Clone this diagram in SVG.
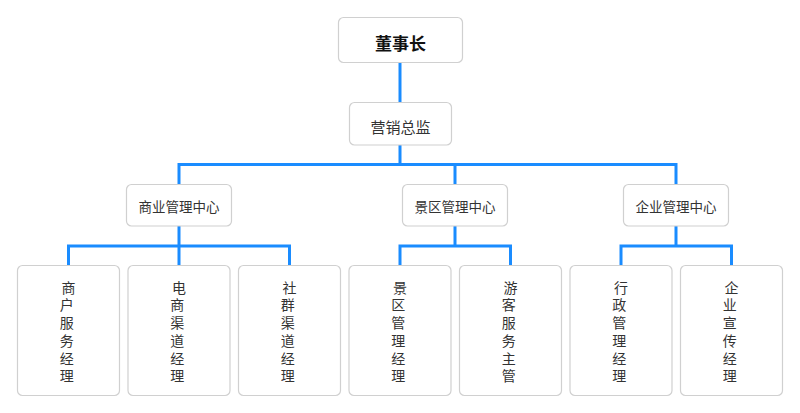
<svg xmlns="http://www.w3.org/2000/svg" width="800" height="413" viewBox="0 0 800 413">
<style>
.box{fill:#fff;stroke:#d0d0d0;stroke-width:1.2}
.t{font-family:"Noto Sans CJK SC","Noto Sans",sans-serif;fill:#333;text-anchor:middle;dominant-baseline:central}
.top{font-size:17px;font-weight:bold;fill:#111}
.mid{font-size:15px}
.ctr{font-size:13.5px}
.leaf{font-size:14px}
.conn{fill:none;stroke:#1a8cff;stroke-width:3}
</style>
<rect width="800" height="413" fill="#fff"/>
<g id="connectors">
<path class="conn" d="M400,62.5V102.5"/>
<path class="conn" d="M400,145V164.5M179,184.5V164.5H676V184.5M455,164.5V184.5"/>
<path class="conn" d="M179,226V246M68.5,265.5V246H289.5V265.5M179,246V265.5"/>
<path class="conn" d="M455,226V246M400,265.5V246H510.5V265.5"/>
<path class="conn" d="M676,226V246M621,265.5V246H731.5V265.5"/>
</g>
<g id="n-chairman"><rect class="box" x="338.5" y="17.5" width="124" height="45" rx="5"/><text class="t top" x="400.5" y="42">董事长</text></g>
<g id="n-director"><rect class="box" x="349.5" y="102.5" width="102" height="42.5" rx="5"/><text class="t mid" x="400.5" y="126">营销总监</text></g>
<g id="n-biz"><rect class="box" x="126.5" y="184.5" width="105" height="41.5" rx="5"/><text class="t ctr" x="179" y="205.5">商业管理中心</text></g>
<g id="n-scenic"><rect class="box" x="402.5" y="184.5" width="105" height="41.5" rx="5"/><text class="t ctr" x="455" y="205.5">景区管理中心</text></g>
<g id="n-corp"><rect class="box" x="623.5" y="184.5" width="105" height="41.5" rx="5"/><text class="t ctr" x="676" y="205.5">企业管理中心</text></g>
<g id="n-leaf1"><rect class="box" x="17.5" y="265.5" width="102" height="130" rx="5"/><text class="t leaf"><tspan x="68.5" y="286.7">商</tspan><tspan x="66.7" y="304.4">户</tspan><tspan x="66.7" y="322.1">服</tspan><tspan x="66.7" y="339.8">务</tspan><tspan x="66.7" y="357.5">经</tspan><tspan x="66.7" y="375.2">理</tspan></text></g>
<g id="n-leaf2"><rect class="box" x="128" y="265.5" width="102" height="130" rx="5"/><text class="t leaf"><tspan x="179" y="286.7">电</tspan><tspan x="177.2" y="304.4">商</tspan><tspan x="177.2" y="322.1">渠</tspan><tspan x="177.2" y="339.8">道</tspan><tspan x="177.2" y="357.5">经</tspan><tspan x="177.2" y="375.2">理</tspan></text></g>
<g id="n-leaf3"><rect class="box" x="238.5" y="265.5" width="102" height="130" rx="5"/><text class="t leaf"><tspan x="289.5" y="286.7">社</tspan><tspan x="287.7" y="304.4">群</tspan><tspan x="287.7" y="322.1">渠</tspan><tspan x="287.7" y="339.8">道</tspan><tspan x="287.7" y="357.5">经</tspan><tspan x="287.7" y="375.2">理</tspan></text></g>
<g id="n-leaf4"><rect class="box" x="349" y="265.5" width="102" height="130" rx="5"/><text class="t leaf"><tspan x="400" y="286.7">景</tspan><tspan x="398.2" y="304.4">区</tspan><tspan x="398.2" y="322.1">管</tspan><tspan x="398.2" y="339.8">理</tspan><tspan x="398.2" y="357.5">经</tspan><tspan x="398.2" y="375.2">理</tspan></text></g>
<g id="n-leaf5"><rect class="box" x="459.5" y="265.5" width="102" height="130" rx="5"/><text class="t leaf"><tspan x="510.5" y="286.7">游</tspan><tspan x="508.7" y="304.4">客</tspan><tspan x="508.7" y="322.1">服</tspan><tspan x="508.7" y="339.8">务</tspan><tspan x="508.7" y="357.5">主</tspan><tspan x="508.7" y="375.2">管</tspan></text></g>
<g id="n-leaf6"><rect class="box" x="570" y="265.5" width="102" height="130" rx="5"/><text class="t leaf"><tspan x="621" y="286.7">行</tspan><tspan x="619.2" y="304.4">政</tspan><tspan x="619.2" y="322.1">管</tspan><tspan x="619.2" y="339.8">理</tspan><tspan x="619.2" y="357.5">经</tspan><tspan x="619.2" y="375.2">理</tspan></text></g>
<g id="n-leaf7"><rect class="box" x="680.5" y="265.5" width="102" height="130" rx="5"/><text class="t leaf"><tspan x="731.5" y="286.7">企</tspan><tspan x="729.7" y="304.4">业</tspan><tspan x="729.7" y="322.1">宣</tspan><tspan x="729.7" y="339.8">传</tspan><tspan x="729.7" y="357.5">经</tspan><tspan x="729.7" y="375.2">理</tspan></text></g>
</svg>
